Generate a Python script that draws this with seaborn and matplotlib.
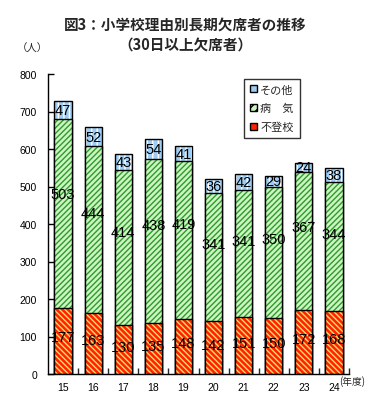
import matplotlib.pyplot as plt
import seaborn as sns
import pandas as pd
from matplotlib.patches import Patch

years = ['15', '16', '17', '18', '19', '20', '21', '22', '23', '24']
futoko = [177, 163, 130, 135, 148, 142, 151, 150, 172, 168]
byoki = [503, 444, 414, 438, 419, 341, 341, 350, 367, 344]
sonota = [47, 52, 43, 54, 41, 36, 42, 29, 24, 38]

sns.set_theme(style='white')
plt.rcParams['font.family'] = ['Noto Sans CJK JP', 'DejaVu Sans']
plt.rcParams['hatch.linewidth'] = 1.0

df = pd.DataFrame({'year': years, 'a': futoko, 'b': byoki, 'c': sonota})
df['ab'] = df['a'] + df['b']
df['abc'] = df['ab'] + df['c']

fig = plt.figure(figsize=(3.73, 4.10), dpi=100)
ax = fig.add_axes([48 / 373, 35 / 410, 301 / 373, 300 / 410])

# stacked bars drawn as overlapping cumulative layers
layers = [('abc', '#9dcdf5', 'white', '|||'),
          ('ab', '#ccf5c0', '#2f9a2f', '//////'),
          ('a', '#ff2200', '#ffd966', '\\\\\\\\\\\\')]
for col, face, hcol, hatch in layers:
    sns.barplot(data=df, x='year', y=col, order=years, color=face, saturation=1,
                width=0.57, errorbar=None, edgecolor=hcol, linewidth=0,
                hatch=hatch, ax=ax)
    sns.barplot(data=df, x='year', y=col, order=years, color='black', fill=False,
                width=0.57, errorbar=None, linewidth=1, ax=ax)

lab_font = dict(family=['Liberation Sans'], fontsize=10.5, color='black',
                ha='center', va='center')
for i in range(len(years)):
    ax.text(i, futoko[i] * 0.55, str(futoko[i]), **lab_font)
    ax.text(i, futoko[i] + byoki[i] * 0.6, str(byoki[i]), **lab_font)
    ax.text(i, futoko[i] + byoki[i] + sonota[i] / 2, str(sonota[i]), **lab_font)

ax.set_xlim(-0.5, len(years) - 0.5)
ax.set_ylim(0, 800)
ax.set_yticks(range(0, 900, 100))
ax.set_xlabel('')
ax.set_ylabel('')
ax.set_xticks([i + 0.5 for i in range(len(years))], minor=True)
ax.tick_params(axis='y', direction='in', length=4, width=1, left=True, pad=8,
               labelsize=7.5, colors='black')
ax.tick_params(axis='x', which='major', length=0, pad=6, labelsize=7.5,
               colors='black')
ax.tick_params(axis='x', which='minor', direction='in', length=4, width=1,
               bottom=True)
for t in ax.get_xticklabels() + ax.get_yticklabels():
    t.set_family(['Liberation Sans'])
sns.despine(ax=ax)
for s in ['left', 'bottom']:
    ax.spines[s].set_color('black')
    ax.spines[s].set_linewidth(1)

handles = [Patch(facecolor='#9dcdf5', edgecolor='black', label='その他'),
           Patch(facecolor='#ccf5c0', edgecolor='black', hatch='////', label='病　気'),
           Patch(facecolor='#ff2200', edgecolor='black', label='不登校')]
leg = ax.legend(handles=handles, loc='upper left', bbox_to_anchor=(0.652, 0.985),
                fontsize=8, frameon=True, fancybox=False, edgecolor='black',
                handlelength=0.6, handleheight=0.6, handletextpad=0.3,
                labelspacing=0.75, borderpad=0.55, borderaxespad=0)
leg.get_frame().set_linewidth(1)

fig.text(0.497, 1 - 25 / 410, '図3：小学校理由別長期欠席者の推移', ha='center', va='center',
         fontsize=10.5, fontweight='bold')
fig.text(0.497, 1 - 45 / 410, '（30日以上欠席者）', ha='center', va='center',
         fontsize=10.5, fontweight='bold')
fig.text(32 / 373, 1 - 49 / 410, '（人）', ha='center', va='center', fontsize=7.5)
fig.text(339 / 373, 1 - 382 / 410, '(年度)', ha='left', va='center', fontsize=7)

fig.savefig('out.png', dpi=100)
